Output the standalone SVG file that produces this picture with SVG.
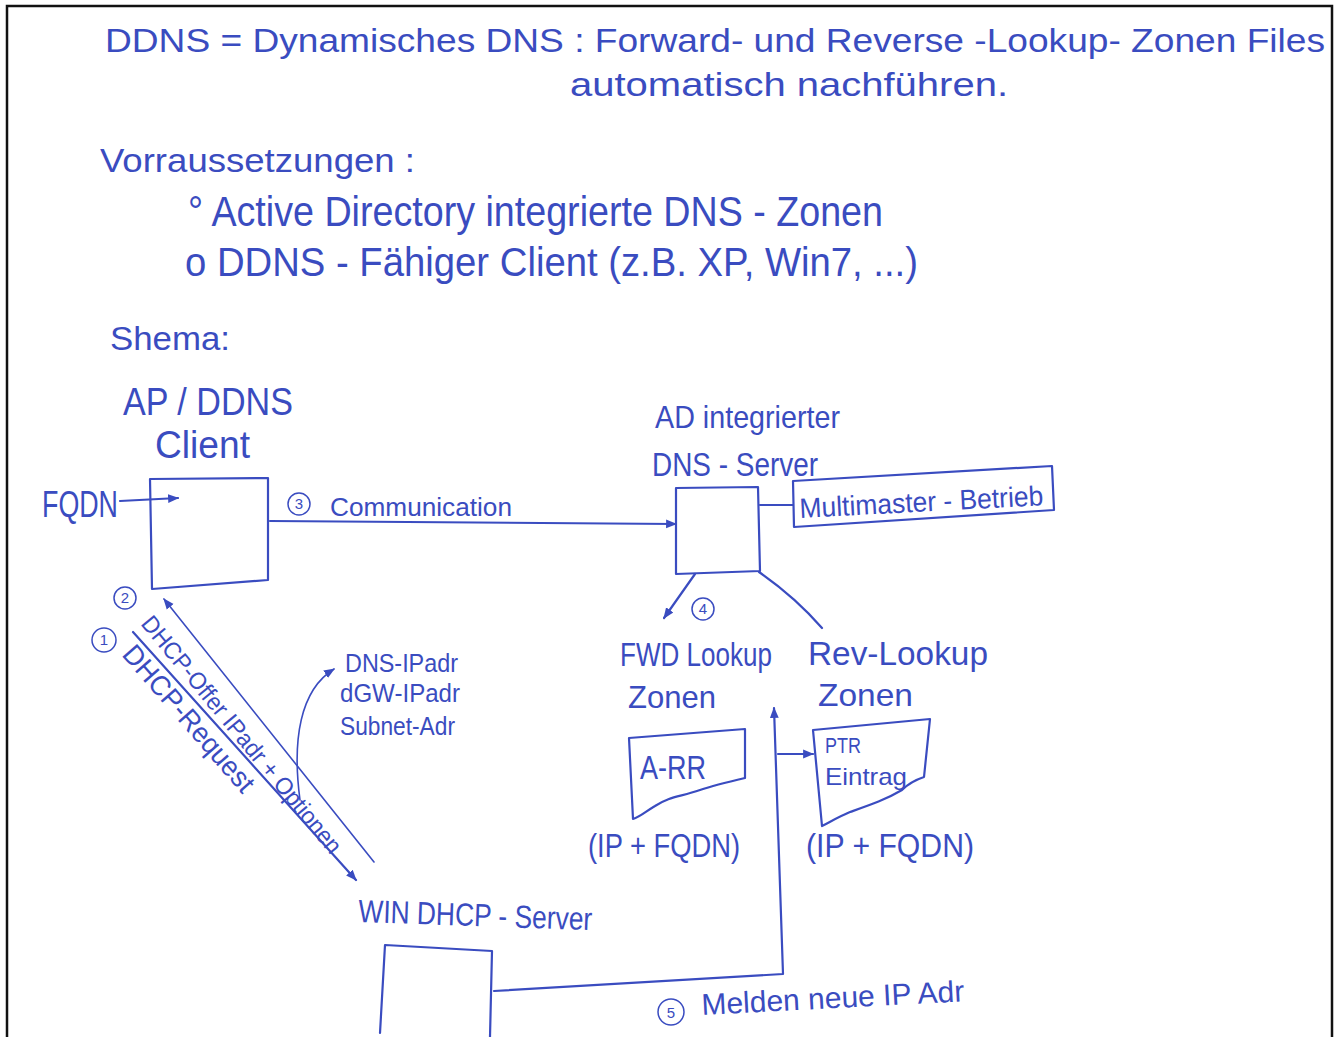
<svg xmlns="http://www.w3.org/2000/svg" width="1341" height="1037" viewBox="0 0 1341 1037">
<style>
  text { font-family: "Liberation Sans", "DejaVu Sans", sans-serif; fill: #3a4cc0; }
  .ink { fill: none; stroke: #3a4cc0; stroke-width: 2.2; stroke-linecap: round; stroke-linejoin: round; }
  .thin { fill: none; stroke: #3a4cc0; stroke-width: 1.6; stroke-linecap: round; }
  .frame { fill: none; stroke: #111; stroke-width: 2.5; }
  .num { fill: none; stroke: #3a4cc0; stroke-width: 1.5; }
  .d { font-size: 15px; text-anchor: middle; }
</style>
<defs>
  <marker id="ahs" viewBox="0 0 10 10" refX="9" refY="5" markerWidth="11" markerHeight="11" orient="auto" markerUnits="userSpaceOnUse">
    <path d="M0,1 L10,5 L0,9 z" fill="#3a4cc0"/>
  </marker>
</defs>
<rect width="1341" height="1037" fill="#fff"/>
<path class="frame" d="M7,1037 L7,6 L1332,6 L1332,1037"/>

<g id="header">
  <text x="105" y="52" font-size="34" textLength="1220" lengthAdjust="spacingAndGlyphs">DDNS = Dynamisches DNS : Forward- und Reverse -Lookup- Zonen Files</text>
  <text x="570" y="96" font-size="34" textLength="438" lengthAdjust="spacingAndGlyphs">automatisch nachführen.</text>
  <text x="100" y="172" font-size="34" textLength="315" lengthAdjust="spacingAndGlyphs">Vorraussetzungen :</text>
  <text x="188" y="226" font-size="42" textLength="695" lengthAdjust="spacingAndGlyphs">° Active Directory integrierte DNS - Zonen</text>
  <text x="185" y="276" font-size="40" textLength="733" lengthAdjust="spacingAndGlyphs">o DDNS - Fähiger Client (z.B. XP, Win7, ...)</text>
  <text x="110" y="350" font-size="34" textLength="120" lengthAdjust="spacingAndGlyphs">Shema:</text>
</g>

<g id="client">
  <text x="123" y="415" font-size="38" textLength="170" lengthAdjust="spacingAndGlyphs">AP / DDNS</text>
  <text x="155" y="458" font-size="38" textLength="95" lengthAdjust="spacingAndGlyphs">Client</text>
  <path class="ink" d="M150,479 L268,478 L268,580 L152,589 Z"/>
  <text x="42" y="517" font-size="36" textLength="76" lengthAdjust="spacingAndGlyphs">FQDN</text>
</g>

<g id="dns-server">
  <text x="655" y="428" font-size="32" textLength="185" lengthAdjust="spacingAndGlyphs">AD integrierter</text>
  <text x="652" y="476" font-size="34" textLength="166" lengthAdjust="spacingAndGlyphs">DNS - Server</text>
  <path class="ink" d="M676,488 L758,487 L760,571 L676,574 Z"/>
</g>

<g id="multimaster">
  <path class="ink" d="M793,481 L1052,466 L1054,510 L794,527 Z"/>
  <text x="800" y="518" font-size="28" textLength="244" lengthAdjust="spacingAndGlyphs" transform="rotate(-3 800 518)">Multimaster - Betrieb</text>
</g>

<g id="fwd-zone">
  <text x="620" y="666" font-size="34" textLength="152" lengthAdjust="spacingAndGlyphs">FWD Lookup</text>
  <text x="628" y="708" font-size="32" textLength="88" lengthAdjust="spacingAndGlyphs">Zonen</text>
  <path class="ink" d="M629,738 L745,729 L745,778 C728,782 712,786 700,790 C680,797 670,796 655,806 C645,812 640,817 633,819 Z"/>
  <text x="640" y="779" font-size="34" textLength="66" lengthAdjust="spacingAndGlyphs">A-RR</text>
  <text x="588" y="857" font-size="34" textLength="152" lengthAdjust="spacingAndGlyphs">(IP + FQDN)</text>
</g>

<g id="rev-zone">
  <text x="808" y="665" font-size="34" textLength="180" lengthAdjust="spacingAndGlyphs">Rev-Lookup</text>
  <text x="818" y="706" font-size="32" textLength="95" lengthAdjust="spacingAndGlyphs">Zonen</text>
  <path class="ink" d="M813,730 L930,719 L924,777 C915,780 908,784 902,790 C885,800 870,805 850,812 C838,817 830,822 822,826 Z"/>
  <text x="825" y="753" font-size="22" textLength="36" lengthAdjust="spacingAndGlyphs">PTR</text>
  <text x="825" y="785" font-size="24" textLength="82" lengthAdjust="spacingAndGlyphs">Eintrag</text>
  <text x="806" y="857" font-size="34" textLength="168" lengthAdjust="spacingAndGlyphs">(IP + FQDN)</text>
</g>

<g id="dhcp-server">
  <text x="358" y="922" font-size="32" textLength="234" lengthAdjust="spacingAndGlyphs" transform="rotate(2 358 922)">WIN DHCP - Server</text>
  <path class="ink" d="M385,945 L492,951 L490,1037 M380,1033 L385,945"/>
</g>

<g id="options">
  <text x="345" y="672" font-size="26" textLength="113" lengthAdjust="spacingAndGlyphs">DNS-IPadr</text>
  <text x="340" y="702" font-size="26" textLength="120" lengthAdjust="spacingAndGlyphs">dGW-IPadr</text>
  <text x="340" y="735" font-size="26" textLength="115" lengthAdjust="spacingAndGlyphs">Subnet-Adr</text>
</g>

<g id="connectors">
  <path class="ink" d="M120,501 L178,498" marker-end="url(#ahs)"/>
  <path class="ink" d="M270,521 L676,524" marker-end="url(#ahs)"/>
  <path class="ink" d="M760,505 L793,505"/>
  <path class="ink" d="M695,574 L664,618" marker-end="url(#ahs)"/>
  <path class="ink" d="M759,572 Q795,597 822,628"/>
  <path class="thin" d="M374,862 L164,599" marker-end="url(#ahs)"/>
  <path class="ink" d="M133,632 L356,880" marker-end="url(#ahs)"/>
  <path class="thin" d="M300,800 C292,740 300,690 334,669" marker-end="url(#ahs)"/>
  <path class="ink" d="M494,991 L783,974 L774,708" marker-end="url(#ahs)"/>
  <path class="ink" d="M778,754 L813,754" marker-end="url(#ahs)"/>
</g>

<g id="labels">
  <circle class="num" cx="299" cy="504" r="11"/><text class="d" x="299" y="509">3</text>
  <text x="330" y="516" font-size="26" textLength="182" lengthAdjust="spacingAndGlyphs">Communication</text>
  <circle class="num" cx="703" cy="609" r="11"/><text class="d" x="703" y="614">4</text>
  <circle class="num" cx="125" cy="598" r="11"/><text class="d" x="125" y="603">2</text>
  <circle class="num" cx="104" cy="640" r="12"/><text class="d" x="104" y="645">1</text>
  <text x="140" y="624" font-size="24" textLength="300" lengthAdjust="spacingAndGlyphs" transform="rotate(50.5 140 624)">DHCP-Offer  IPadr + Optionen</text>
  <text x="121" y="655" font-size="28" textLength="185" lengthAdjust="spacingAndGlyphs" transform="rotate(49 121 655)">DHCP-Request</text>
  <circle class="num" cx="671" cy="1012" r="13"/><text class="d" x="671" y="1018" font-size="18">5</text>
  <text x="702" y="1015" font-size="30" textLength="263" lengthAdjust="spacingAndGlyphs" transform="rotate(-3 702 1015)">Melden neue IP Adr</text>
</g>
</svg>
